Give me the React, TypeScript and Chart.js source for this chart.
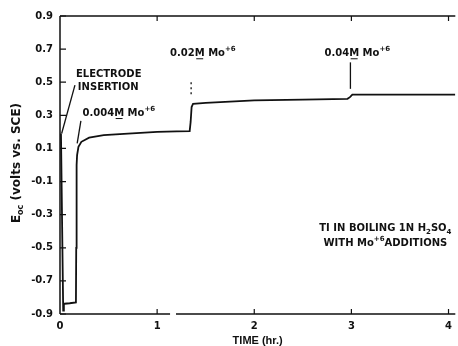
import React, { useEffect, useRef } from "react";
import { Chart, registerables } from "chart.js";

Chart.register(...registerables);

// ---- data ----
const timeHr = [0.01, 0.033, 0.04, 0.046, 0.1, 0.164, 0.167, 0.171, 0.176, 0.19, 0.22, 0.3, 0.45, 0.7, 1.0, 1.2, 1.335, 1.345, 1.355, 1.37, 1.5, 2.0, 2.5, 2.96, 2.985, 3.01, 3.5, 4.07];
const eocVolts = [0.19, -0.88, -0.84, -0.838, -0.835, -0.83, -0.5, 0.0, 0.06, 0.11, 0.14, 0.165, 0.18, 0.19, 0.2, 0.203, 0.205, 0.26, 0.35, 0.37, 0.375, 0.39, 0.395, 0.4, 0.41, 0.425, 0.425, 0.425];
const xTickValues = [0, 1, 2, 3, 4];
const yTickValues = [-0.9, -0.7, -0.5, -0.3, -0.1, 0.1, 0.3, 0.5, 0.7, 0.9];
const xAxisTitle = "TIME (hr.)";

type Seg = { text: string; sup?: boolean; sub?: boolean; u?: boolean };
const annotations: { t: number; e: number; align: "left" | "center"; segs: Seg[] }[] = [
  { t: 0.164, e: 0.548, align: "left", segs: [{ text: "ELECTRODE" }] },
  { t: 0.184, e: 0.471, align: "left", segs: [{ text: "INSERTION" }] },
  { t: 0.232, e: 0.312, align: "left", segs: [{ text: "0.004" }, { text: "M", u: true }, { text: " Mo" }, { text: "+6", sup: true }] },
  { t: 1.133, e: 0.673, align: "left", segs: [{ text: "0.02" }, { text: "M", u: true }, { text: " Mo" }, { text: "+6", sup: true }] },
  { t: 2.723, e: 0.673, align: "left", segs: [{ text: "0.04" }, { text: "M", u: true }, { text: " Mo" }, { text: "+6", sup: true }] },
  { t: 3.35, e: -0.384, align: "center", segs: [{ text: "TI IN BOILING 1N H" }, { text: "2", sub: true }, { text: "SO" }, { text: "4", sub: true }] },
  { t: 3.35, e: -0.471, align: "center", segs: [{ text: "WITH Mo" }, { text: "+6", sup: true }, { text: "ADDITIONS" }] },
];
const leaders: { t1: number; e1: number; t2: number; e2: number; dash?: boolean }[] = [
  { t1: 0.154, e1: 0.482, t2: 0.017, e2: 0.19 },
  { t1: 0.215, e1: 0.266, t2: 0.177, e2: 0.13 },
  { t1: 1.35, e1: 0.5, t2: 1.35, e2: 0.42, dash: true },
  { t1: 2.99, e1: 0.62, t2: 2.99, e2: 0.46 },
];
const xAxisBreak = [1.133, 1.194];

const FONT = '"DejaVu Sans", sans-serif';
const INK = "#111";

function drawRich(ctx: CanvasRenderingContext2D, x: number, y: number, segs: Seg[], size: number, align: "left" | "center") {
  const small = Math.round(size * 0.7);
  const widths = segs.map((s) => {
    ctx.font = `bold ${s.sup || s.sub ? small : size}px ${FONT}`;
    return ctx.measureText(s.text).width;
  });
  const total = widths.reduce((a, b) => a + b, 0);
  let cx = align === "center" ? x - total / 2 : x;
  ctx.textBaseline = "middle";
  ctx.textAlign = "left";
  segs.forEach((s, i) => {
    ctx.font = `bold ${s.sup || s.sub ? small : size}px ${FONT}`;
    const dy = s.sup ? -size * 0.4 : s.sub ? size * 0.35 : 0;
    ctx.fillText(s.text, cx, y + dy);
    if (s.u) {
      ctx.beginPath();
      ctx.lineWidth = 1;
      ctx.moveTo(cx + 1.5, y + size * 0.52);
      ctx.lineTo(cx + widths[i] - 1.5, y + size * 0.52);
      ctx.stroke();
    }
    cx += widths[i];
  });
}

const decorPlugin = {
  id: "decor",
  afterDatasetsDraw(chart: any) {
    const ctx: CanvasRenderingContext2D = chart.ctx;
    const xs = chart.scales.x;
    const ys = chart.scales.y;
    const { left, right, top, bottom } = chart.chartArea;
    ctx.save();
    ctx.strokeStyle = INK;
    ctx.fillStyle = INK;
    ctx.lineWidth = 1.5;
    // axes frame
    ctx.beginPath();
    ctx.moveTo(left, top);
    ctx.lineTo(left, bottom);
    ctx.moveTo(left, top);
    ctx.lineTo(right, top);
    ctx.moveTo(left, bottom);
    ctx.lineTo(xs.getPixelForValue(xAxisBreak[0]), bottom);
    ctx.moveTo(xs.getPixelForValue(xAxisBreak[1]), bottom);
    ctx.lineTo(right, bottom);
    ctx.stroke();
    // ticks
    ctx.lineWidth = 1.2;
    ctx.beginPath();
    yTickValues.forEach((v) => {
      const py = ys.getPixelForValue(v);
      ctx.moveTo(left, py);
      ctx.lineTo(left + 6, py);
    });
    xTickValues.forEach((v) => {
      if (v === 0) return;
      const px = xs.getPixelForValue(v);
      ctx.moveTo(px, bottom);
      ctx.lineTo(px, bottom - 5);
      ctx.moveTo(px, top);
      ctx.lineTo(px, top + 5);
    });
    ctx.stroke();
    // leaders
    leaders.forEach((l) => {
      ctx.beginPath();
      ctx.lineWidth = 1.3;
      ctx.setLineDash(l.dash ? [2, 3] : []);
      ctx.moveTo(xs.getPixelForValue(l.t1), ys.getPixelForValue(l.e1));
      ctx.lineTo(xs.getPixelForValue(l.t2), ys.getPixelForValue(l.e2));
      ctx.stroke();
    });
    ctx.setLineDash([]);
    // annotation text
    annotations.forEach((a) => {
      drawRich(ctx, xs.getPixelForValue(a.t), ys.getPixelForValue(a.e), a.segs, 10, a.align);
    });
    // y axis title (rotated) with subscript
    ctx.translate(17, 163);
    ctx.rotate(-Math.PI / 2);
    drawRich(ctx, 0, 0, [{ text: "E" }, { text: "oc", sub: true }, { text: " (volts vs. SCE)" }], 12, "center");
    ctx.restore();
  },
};

export default function App() {
  const canvasRef = useRef<HTMLCanvasElement | null>(null);
  useEffect(() => {
    const canvas = canvasRef.current;
    if (!canvas) return;
    const chart = new Chart(canvas, {
      type: "line",
      data: {
        datasets: [
          {
            data: timeHr.map((t, i) => ({ x: t, y: eocVolts[i] })),
            borderColor: INK,
            borderWidth: 1.8,
            pointRadius: 0,
            tension: 0,
            fill: false,
          },
        ],
      },
      options: {
        animation: false,
        responsive: false,
        maintainAspectRatio: false,
        layout: { padding: { top: 16, right: 0, left: 0, bottom: 0 } },
        plugins: { legend: { display: false }, tooltip: { enabled: false } },
        scales: {
          x: {
            type: "linear",
            min: 0,
            max: 4.07,
            grid: { display: false, drawTicks: false },
            border: { display: false },
            afterBuildTicks: (s: any) => {
              s.ticks = xTickValues.map((v) => ({ value: v }));
            },
            afterFit: (s: any) => {
              s.height = 32;
            },
            ticks: {
              color: INK,
              padding: 6,
              font: { family: FONT, weight: "bold", size: 10 },
              callback: (v: any) => String(v),
            },
            title: {
              display: true,
              text: xAxisTitle,
              color: INK,
              font: { family: '"Liberation Sans", Arial, sans-serif', weight: "bold", size: 11, lineHeight: 1 },
              padding: { top: 0, bottom: 0 },
            },
          },
          y: {
            type: "linear",
            min: -0.9,
            max: 0.9,
            grid: { display: false, drawTicks: false },
            border: { display: false },
            afterBuildTicks: (s: any) => {
              s.ticks = yTickValues.map((v) => ({ value: v }));
            },
            afterFit: (s: any) => {
              s.width = 60;
            },
            ticks: {
              color: INK,
              padding: 7,
              font: { family: FONT, weight: "bold", size: 10 },
              callback: (v: any) => Number(v).toFixed(1),
            },
          },
        },
      },
      plugins: [decorPlugin],
    } as any);
    return () => chart.destroy();
  }, []);
  return (
    <div style={{ position: "fixed", left: 0, top: 0, width: 458, height: 346, background: "#fff" }}>
      <canvas ref={canvasRef} width={458} height={346} style={{ width: 458, height: 346 }} />
    </div>
  );
}
